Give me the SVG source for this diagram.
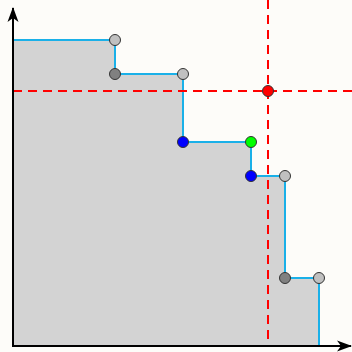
<svg xmlns="http://www.w3.org/2000/svg" width="352" height="352" viewBox="0 0 352 352">
<style>
.pt{stroke:#333;stroke-width:1}
.lg{fill:#c0c0c0}.dg{fill:#808080}.bl{fill:#0000ff}.gr{fill:#00ff00}.rd{fill:#ff0000}
.dash{stroke:#ff0000;stroke-width:2;stroke-dasharray:9,6;fill:none}
</style>
<defs>
<marker id="ah" viewBox="0 0 15 12" refX="14" refY="6" markerWidth="15" markerHeight="12" markerUnits="userSpaceOnUse" orient="auto"><path d="M0,0.5 L15,6 L0,11.5 L4,6 Z" fill="#000"/></marker>
</defs>
<rect width="352" height="352" fill="#fdfcf9"/>
<path d="M13,40 H115 V74 H183 V142 H251 V176 H285 V278 H319 V346 H13 Z" fill="#d3d3d3"/>
<g id="connectors">
<path d="M13,40 H115 V74 H183 V142 H251 V176 H285 V278 H319 V346" fill="none" stroke="#1ab0e8" stroke-width="2"/>
<line x1="13" y1="91" x2="352" y2="91" class="dash"/>
<line x1="268" y1="0" x2="268" y2="346" class="dash"/>
<line x1="13" y1="346" x2="13" y2="8" stroke="#000" stroke-width="2" marker-end="url(#ah)"/>
<line x1="12" y1="346" x2="351" y2="346" stroke="#000" stroke-width="2" marker-end="url(#ah)"/>
</g>
<g id="p1"><circle cx="115" cy="40" r="5.5" class="pt lg"/></g>
<g id="p2"><circle cx="115" cy="74" r="5.5" class="pt dg"/></g>
<g id="p3"><circle cx="183" cy="74" r="5.5" class="pt lg"/></g>
<g id="p4"><circle cx="183" cy="142" r="5.5" class="pt bl"/></g>
<g id="p5"><circle cx="251" cy="142" r="5.5" class="pt gr"/></g>
<g id="p6"><circle cx="251" cy="176" r="5.5" class="pt bl"/></g>
<g id="p7"><circle cx="285" cy="176" r="5.5" class="pt lg"/></g>
<g id="p8"><circle cx="285" cy="278" r="5.5" class="pt dg"/></g>
<g id="p9"><circle cx="319" cy="278" r="5.5" class="pt lg"/></g>
<g id="p10"><circle cx="268" cy="91" r="5.5" class="pt rd"/></g>
</svg>
